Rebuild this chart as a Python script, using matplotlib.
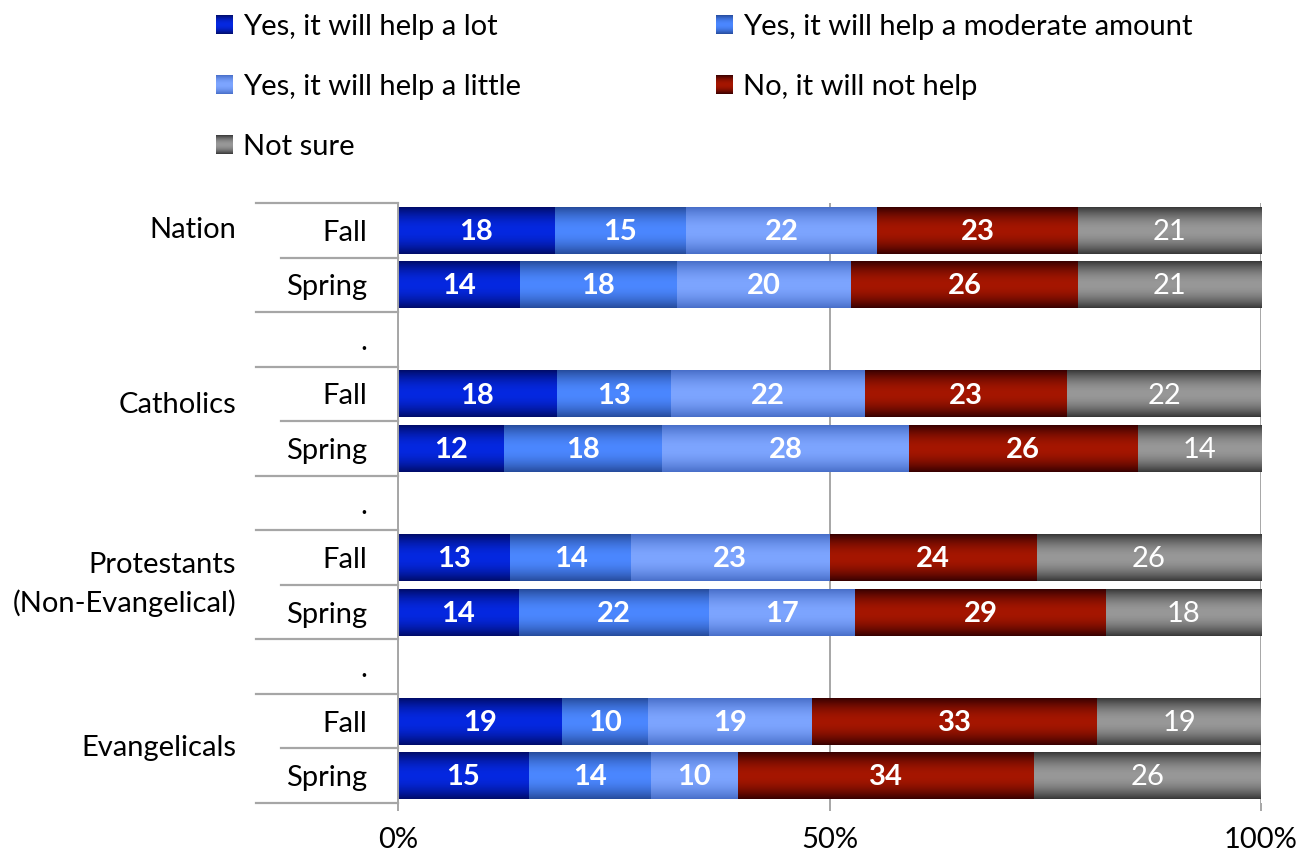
import numpy as np
import matplotlib
matplotlib.use('Agg')
import matplotlib.pyplot as plt
import matplotlib.transforms as mtransforms

plt.rcParams['font.family'] = ['Lato', 'DejaVu Sans']

# answer categories
answers = ['Yes, it will help a lot', 'Yes, it will help a moderate amount',
           'Yes, it will help a little', 'No, it will not help', 'Not sure']

# one row per bar (spacer rows hold None)
row_labels = ['Fall', 'Spring', '.', 'Fall', 'Spring', '.', 'Fall', 'Spring', '.', 'Fall', 'Spring']
help_lot = [18, 14, None, 18, 12, None, 13, 14, None, 19, 15]
help_moderate = [15, 18, None, 13, 18, None, 14, 22, None, 10, 14]
help_little = [22, 20, None, 22, 28, None, 23, 17, None, 19, 10]
not_help = [23, 26, None, 23, 26, None, 24, 29, None, 33, 34]
not_sure = [21, 21, None, 22, 14, None, 26, 18, None, 19, 26]

groups = ['Nation', 'Catholics', 'Protestants\n(Non-Evangelical)', 'Evangelicals']
group_rows = [0, 3.2, 6.5, 9.5]

# (edge colour, middle colour) for the vertical gradient of each series
shades = [((0, 12, 105), (5, 40, 225)),
          ((38, 75, 155), (75, 135, 255)),
          ((72, 110, 200), (125, 165, 255)),
          ((55, 0, 0), (165, 22, 0)),
          ((55, 55, 55), (152, 152, 152))]
label_weight = ['bold', 'bold', 'bold', 'bold', 'normal']
fs = 21


def gradient(edge, mid, n=80):
    t = np.linspace(0, 1, n)
    w = np.sin(np.pi * t) ** 0.9
    e = np.array(edge) / 255.0
    m = np.array(mid) / 255.0
    g = e[None, :] + (m - e)[None, :] * w[:, None]
    return g[:, None, :]


series = [help_lot, help_moderate, help_little, not_help, not_sure]
nrows = len(row_labels)
vals = np.array([[np.nan if s[i] is None else s[i] for s in series] for i in range(nrows)], dtype=float)
totals = np.nansum(vals, axis=1)
pct = np.where(totals[:, None] > 0, vals / np.where(totals == 0, 1, totals)[:, None] * 100, np.nan)

W, H = 1305, 856
fig = plt.figure(figsize=(W / 100, H / 100), dpi=100)
ax = fig.add_axes([398 / W, 1 - 803 / H, 863 / W, 600 / H])

ypos = np.arange(nrows)
left = np.zeros(nrows)
bar_h = 0.86
for k in range(len(series)):
    widths = np.nan_to_num(pct[:, k])
    bars = ax.barh(ypos, widths, left=left, height=bar_h, color='none', edgecolor='none', zorder=2)
    img = gradient(*shades[k])
    for i, b in enumerate(bars):
        if widths[i] <= 0:
            continue
        x0, y0 = b.get_x(), b.get_y()
        ax.imshow(img, extent=[x0, x0 + b.get_width(), y0 + b.get_height(), y0],
                  aspect='auto', interpolation='bilinear', zorder=2)
        ax.text(x0 + b.get_width() / 2, ypos[i] + 0.03, str(int(vals[i, k])), ha='center', va='center',
                color='white', fontsize=fs, fontweight=label_weight[k], zorder=3)
    left = left + widths

ax.set_xlim(0, 100)
ax.set_ylim(nrows - 0.5, -0.5)
ax.set_aspect('auto')
ax.set_xticks([0, 50, 100])
ax.set_xticklabels(['0%', '50%', '100%'], fontsize=fs)
ax.set_yticks(ypos)
ax.set_yticklabels(row_labels, fontsize=fs)
ax.tick_params(axis='y', length=0, pad=22)
ax.tick_params(axis='x', length=6, color='#a6a6a6', width=1.4, pad=11)
ax.xaxis.grid(True, color='#a6a6a6', lw=1.4)
ax.set_axisbelow(True)
for s in ['top', 'right', 'bottom']:
    ax.spines[s].set_visible(False)
ax.spines['left'].set_color('#a6a6a6')
ax.spines['left'].set_linewidth(1.4)

# category table lines on the left
trans = mtransforms.blended_transform_factory(ax.transAxes, ax.transData)
for r in range(nrows + 1):
    yb = r - 0.5
    inner = 0 < r < nrows and row_labels[r - 1] == 'Fall'
    x_start = -0.1356 if inner else -0.1645
    ax.plot([x_start, 0], [yb, yb], color='#a6a6a6', lw=1.6, transform=trans, clip_on=False)

for g, gy in zip(groups, group_rows):
    ax.text(-0.1877, gy, g, transform=trans, ha='right', va='center', multialignment='right',
            fontsize=fs, linespacing=1.5)

# legend drawn in pixel coordinates
lg = fig.add_axes([0, 0, 1, 1], zorder=5)
lg.set_xlim(0, W)
lg.set_ylim(H, 0)
lg.axis('off')
leg_pos = [(216, 24), (716, 24), (216, 84), (716, 84), (216, 144)]
for k, (lx, ly) in enumerate(leg_pos):
    lg.imshow(gradient(*shades[k]), extent=[lx, lx + 17, ly + 9.5, ly - 9.5], aspect='auto',
              interpolation='bilinear')
    lg.text(lx + 27, ly + 3, answers[k], ha='left', va='center', fontsize=fs)
lg.set_xlim(0, W)
lg.set_ylim(H, 0)

fig.savefig('out.png', dpi=100)
